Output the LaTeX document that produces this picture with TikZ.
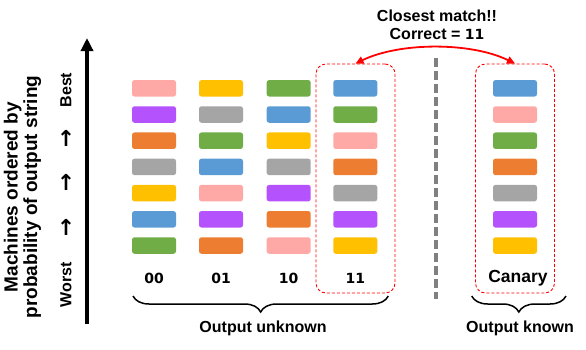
\documentclass[tikz,border=0pt]{standalone}
\usepackage{fontspec}
\setmainfont{Liberation Sans}
\newfontfamily\dv{DejaVu Sans}
\usetikzlibrary{arrows.meta,decorations.pathreplacing}
\definecolor{cpink}{HTML}{FFA9A6}
\definecolor{cpurp}{HTML}{B452FD}
\definecolor{corange}{HTML}{ED7D31}
\definecolor{cgray}{HTML}{A5A5A5}
\definecolor{cyel}{HTML}{FFC000}
\definecolor{cblue}{HTML}{5B9BD5}
\definecolor{cgreen}{HTML}{70AD47}
\definecolor{cred}{HTML}{FF0000}
\definecolor{cdash}{HTML}{808080}
\tikzset{
  bar/.style={rounded corners=2.5pt, minimum width=44pt, minimum height=16.5pt, inner sep=0pt, draw=none},
  collabel/.style={font=\dv\bfseries\fontsize{14}{16}\selectfont, inner sep=0pt},
  lbl/.style={font=\bfseries\fontsize{16}{18.3}\selectfont, inner sep=0pt, align=center},
  selbox/.style={draw=cred, dash pattern=on 3pt off 2pt, line width=0.9pt, rounded corners=10pt, minimum width=79pt, minimum height=229pt, inner sep=0pt},
  bracestyle/.style={decorate, decoration={brace, amplitude=16pt, mirror}, line width=1.5pt},
  uparr/.style={font=\dv\bfseries\fontsize{22}{24}\selectfont, inner sep=0pt}
}
\begin{document}
\begin{tikzpicture}[x=1pt, y=-1pt]
\useasboundingbox (0,0) rectangle (586,349);
% columns of bars
\foreach \cx/\name/\cols in {154/a/{cpink,cpurp,corange,cgray,cyel,cblue,cgreen},
                             221/b/{cyel,cgray,cgreen,cblue,cpink,cpurp,corange},
                             288.7/c/{cgreen,cblue,cyel,cgray,cpurp,corange,cpink},
                             355.3/d/{cblue,cgreen,cpink,corange,cgray,cpurp,cyel},
                             515/e/{cblue,cpink,cgreen,corange,cgray,cpurp,cyel}}{
  \foreach \c [count=\i] in \cols {
    \node[bar, fill=\c] (\name\i) at (\cx, {88.3+26.2*(\i-1)}) {};
  }
}
% column labels
\node[collabel] (l00) at (154,278) {00};
\node[collabel] (l01) at (221,278) {01};
\node[collabel] (l10) at (288.7,278) {10};
\node[collabel] (l11) at (355.3,278) {11};
\node[font=\bfseries\fontsize{17.5}{19}\selectfont, inner sep=0pt] (lcan) at (518,278) {Canary};
% selection boxes
\node[selbox] (box11) at (355.5,178.5) {};
\node[selbox] (boxcan) at (515,178.5) {};
% separator
\draw[cdash, line width=3.3pt, dash pattern=on 9pt off 4pt] (436,58) -- (436,299);
% closest match arrow
\draw[cred, line width=1.8pt, {Triangle[length=8pt,width=7.5pt]}-{Triangle[length=8pt,width=7.5pt]}]
  (box11.north) .. controls (400,42) and (471,42) .. (boxcan.north);
\node[lbl] (match) at (437,24.5) {Closest match!!\\Correct = {\dv\fontsize{14}{16}\selectfont 11}};
% big axis arrow
\draw[line width=3.5pt, -{Triangle[length=13pt,width=12pt]}] (87,324) -- (87,38);
% vertical labels
\node[font=\bfseries\fontsize{19}{19.5}\selectfont, rotate=90, align=center, inner sep=0pt] (ylab) at (22.5,197)
  {Machines ordered by\\probability of output string};
\node[lbl, rotate=90] (worst) at (66,285) {Worst};
\node[lbl, rotate=90] (best) at (66,90) {Best};
\node[uparr] (ar1) at (66,138) {↑};
\node[uparr] (ar2) at (66,182) {↑};
\node[uparr] (ar3) at (66,227) {↑};
% braces
\coordinate (bu1) at (133,296);
\coordinate (bu2) at (388.3,296);
\draw[bracestyle] (bu1) -- (bu2);
\node[lbl] (unk) at (263,328) {Output unknown};
\coordinate (bk1) at (471.7,296);
\coordinate (bk2) at (566,296);
\draw[bracestyle] (bk1) -- (bk2);
\node[lbl] (kn) at (520,328) {Output known};
\end{tikzpicture}
\end{document}
